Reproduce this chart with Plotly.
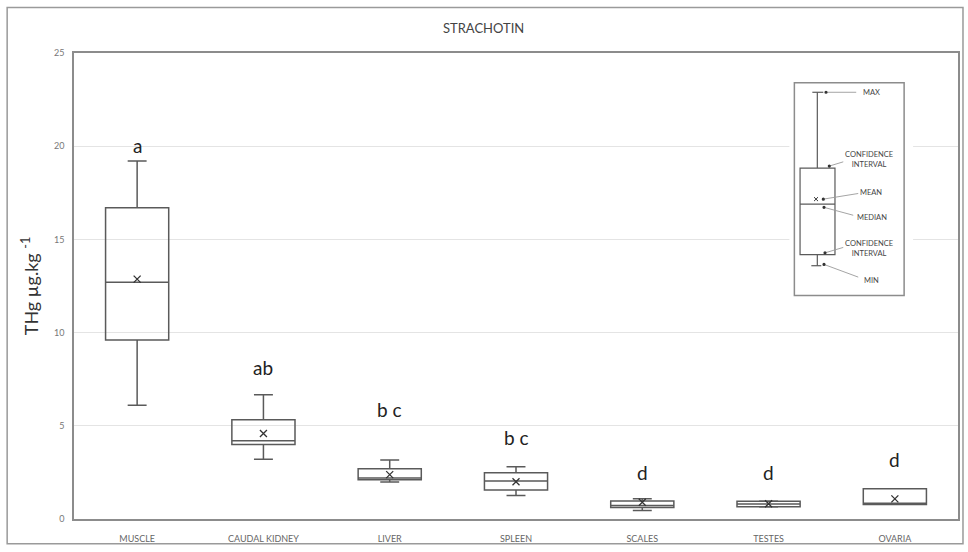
import plotly.graph_objects as go

# ---- data ----
categories = ["MUSCLE", "CAUDAL KIDNEY", "LIVER", "SPLEEN", "SCALES", "TESTES", "OVARIA"]
whisker_low = [6.1, 3.2, 1.98, 1.26, 0.46, 0.64, 0.78]
q1_vals = [9.6, 4.0, 2.1, 1.56, 0.62, 0.66, 0.78]
median_vals = [12.7, 4.2, 2.2, 2.04, 0.72, 0.8, 0.84]
q3_vals = [16.7, 5.33, 2.7, 2.48, 0.97, 0.95, 1.62]
whisker_high = [19.2, 6.67, 3.17, 2.8, 1.08, 0.97, 1.62]
mean_vals = [12.87, 4.59, 2.38, 2.0, 0.9, 0.82, 1.08]
group_letters = ["a", "ab", "b c", "b c", "d", "d", "d"]
letter_y = [20.05, 8.15, 5.87, 4.36, 2.5, 2.5, 3.2]

title_text = "STRACHOTIN"
y_title = "THg µg.kg <sup>-1</sup>"
y_ticks = [0, 5, 10, 15, 20, 25]

# ---- layout geometry ----
W, H = 968, 552
ML, MR, MT, MB = 74, 8, 53, 28
PW, PH = W - ML - MR, H - MT - MB


def px(x):
    return (x - ML) / PW


def py(y):
    return (H - MB - y) / PH


LINE = "#5a5a5a"
FRAME = "#8c8c8c"

fig = go.Figure()

fig.add_trace(go.Box(
    x=categories,
    q1=q1_vals,
    median=median_vals,
    q3=q3_vals,
    lowerfence=whisker_low,
    upperfence=whisker_high,
    boxpoints=False,
    width=0.5,
    whiskerwidth=0.3,
    fillcolor="rgba(0,0,0,0)",
    line=dict(color=LINE, width=1.5),
    showlegend=False,
    hoverinfo="skip",
))

fig.add_trace(go.Scatter(
    x=categories,
    y=mean_vals,
    mode="markers",
    marker=dict(symbol="x-thin", size=7, line=dict(color="#333333", width=1.3)),
    showlegend=False,
    hoverinfo="skip",
))

annotations = []
for c, lt, ly in zip(categories, group_letters, letter_y):
    annotations.append(dict(x=c, y=ly, xref="x", yref="y", text=lt, showarrow=False,
                            font=dict(size=19, color="#222222", family="Lato")))

annotations.append(dict(x=px(484), y=py(28), xref="paper", yref="paper", text=title_text,
                        showarrow=False, xanchor="center", yanchor="middle",
                        font=dict(size=13, color="#444444", family="Lato")))

# ---- inset key ----
shapes = []
# outer frame of the whole chart
shapes.append(dict(type="rect", xref="paper", yref="paper", x0=px(7), x1=px(965), y0=py(7), y1=py(549),
                   line=dict(color="#9a9a9a", width=1.5), layer="below"))
# white panel (hides gridlines)
shapes.append(dict(type="rect", xref="paper", yref="paper", x0=px(791), x1=px(915), y0=py(80), y1=py(300),
                   line=dict(width=0), fillcolor="white", layer="above"))
shapes.append(dict(type="rect", xref="paper", yref="paper", x0=px(796), x1=px(906), y0=py(83), y1=py(298),
                   line=dict(color=FRAME, width=1.5), layer="above"))


def seg(x0, y0, x1, y1, color=LINE, w=1.2):
    shapes.append(dict(type="line", xref="paper", yref="paper", x0=px(x0), y0=py(y0), x1=px(x1), y1=py(y1),
                       line=dict(color=color, width=w), layer="above"))


def dot(x, y, r=1.6):
    shapes.append(dict(type="circle", xref="paper", yref="paper", x0=px(x - r), x1=px(x + r),
                       y0=py(y + r), y1=py(y - r), fillcolor="#333333", line=dict(width=0), layer="above"))


# key box
seg(819, 92.7, 819, 169.3)
seg(814, 92.7, 825, 92.7)
seg(819, 256.7, 819, 268)
seg(813, 268, 823, 268)
shapes.append(dict(type="rect", xref="paper", yref="paper", x0=px(801.7), x1=px(836.7), y0=py(169.3), y1=py(256.7),
                   line=dict(color=LINE, width=1.2), layer="above"))
seg(801.7, 205.7, 836.7, 205.7)
# key mean cross
seg(815.7, 198.7, 819.7, 202.7, color="#333333", w=1)
seg(815.7, 202.7, 819.7, 198.7, color="#333333", w=1)

# leader lines
leaders = [
    ((827.7, 92.7), (858, 92.7)),
    ((831, 167.3), (845, 163)),
    ((825, 200.7), (860, 195)),
    ((825.7, 209), (855, 217)),
    ((826.7, 255), (845, 249.5)),
    ((825.7, 266.7), (860, 279.5)),
]
for (a, b) in leaders:
    seg(a[0], a[1], b[0], b[1], color="#9a9a9a", w=0.9)
    dot(a[0], a[1])

key_labels = [
    ("MAX", 873, 92.7),
    ("CONFIDENCE<br>INTERVAL", 871, 161),
    ("MEAN", 873, 194),
    ("MEDIAN", 874, 219),
    ("CONFIDENCE<br>INTERVAL", 871, 251),
    ("MIN", 873, 283),
]
for t, x, y in key_labels:
    annotations.append(dict(x=px(x), y=py(y), xref="paper", yref="paper", text=t, showarrow=False,
                            xanchor="center", yanchor="middle",
                            font=dict(size=7.5, color="#444444", family="Lato")))

fig.update_layout(
    width=W, height=H,
    margin=dict(l=ML, r=MR, t=MT, b=MB),
    paper_bgcolor="white",
    plot_bgcolor="white",
    font=dict(family="Lato", color="#555555"),
    shapes=shapes,
    annotations=annotations,
    xaxis=dict(
        type="category",
        range=[-0.5, 6.5],
        showgrid=False,
        showline=True, mirror=True, linecolor=FRAME, linewidth=1.5,
        ticks="",
        tickfont=dict(size=9, color="#666666"),
        ticklabelstandoff=10,
    ),
    yaxis=dict(
        range=[0, 25],
        tickvals=y_ticks,
        showgrid=True, gridcolor="#e4e4e4", gridwidth=1,
        zeroline=False,
        showline=True, mirror=True, linecolor=FRAME, linewidth=1.5,
        ticks="",
        tickfont=dict(size=9, color="#777777"),
        ticklabelstandoff=6,
        title=dict(text=y_title, font=dict(size=18, color="#333333", family="Lato"), standoff=11),
    ),
)

fig.write_html(
    "out.html",
    config={"displayModeBar": False},
    post_script="document.body.style.margin='0';document.body.style.overflow='hidden';",
)
